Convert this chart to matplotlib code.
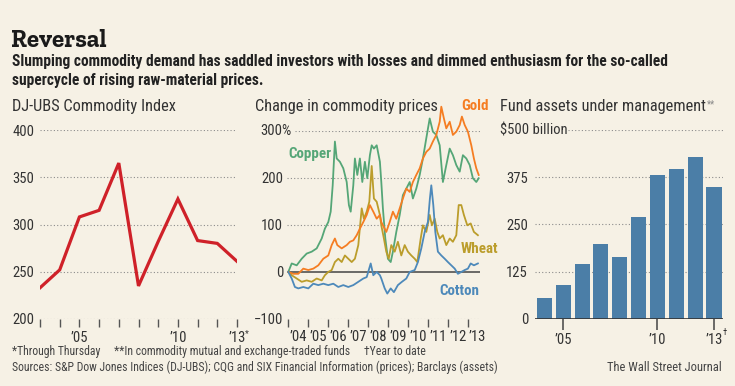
import matplotlib
matplotlib.use('Agg')
import matplotlib.pyplot as plt
from matplotlib import font_manager as fm

# ---- data ----
# DJ-UBS Commodity Index, year-end
idx_years = [2003, 2004, 2005, 2006, 2007, 2008, 2009, 2010, 2011, 2012, 2013]
idx_values = [233, 252, 308, 315, 365, 235, 282, 327, 283, 280, 261]
idx_ticks = [2003, 2004, 2005, 2006, 2007, 2008, 2009, 2010, 2011, 2012, 2013]
idx_ticklabels = ['', '', '\u201905', '', '', '', '', '\u201910', '', '', '\u201913']

# Change in commodity prices since start of 2004, %
copper_x = [2004.00, 2004.17, 2004.42, 2004.67, 2004.92, 2005.17, 2005.42, 2005.67, 2005.83, 2006.00,
            2006.12, 2006.22, 2006.33, 2006.42, 2006.58, 2006.75, 2006.92, 2007.03, 2007.12, 2007.25,
            2007.33, 2007.45, 2007.58, 2007.70, 2007.83, 2007.95, 2008.08, 2008.17, 2008.28, 2008.42,
            2008.58, 2008.65, 2008.73, 2008.85, 2008.98, 2009.12, 2009.23, 2009.40, 2009.57, 2009.73,
            2009.90, 2010.07, 2010.23, 2010.40, 2010.57, 2010.73, 2010.90, 2011.07, 2011.23, 2011.40,
            2011.57, 2011.73, 2011.90, 2012.07, 2012.23, 2012.40, 2012.57, 2012.73, 2012.90, 2013.07,
            2013.23, 2013.40, 2013.52]
copper_y = [0, 18, 14, 28, 39, 43, 50, 71, 92, 106,
            128, 184, 277, 241, 234, 220, 191, 142, 128, 184,
            241, 206, 241, 191, 234, 199, 248, 269, 262, 269,
            234, 191, 135, 71, 28, 21, 43, 85, 121, 163,
            177, 191, 156, 177, 206, 241, 284, 326, 298, 291,
            269, 191, 227, 262, 248, 227, 213, 248, 241, 227,
            199, 191, 199]

gold_x = [2004.00, 2004.25, 2004.50, 2004.75, 2005.00, 2005.25, 2005.50, 2005.75, 2006.00, 2006.17,
          2006.33, 2006.45, 2006.67, 2006.92, 2007.08, 2007.25, 2007.42, 2007.58, 2007.75, 2007.92,
          2008.08, 2008.25, 2008.42, 2008.58, 2008.65, 2008.90, 2009.07, 2009.23, 2009.40, 2009.57,
          2009.73, 2009.90, 2010.07, 2010.23, 2010.40, 2010.57, 2010.73, 2010.90, 2011.07, 2011.23,
          2011.40, 2011.57, 2011.65, 2011.78, 2011.90, 2012.07, 2012.23, 2012.40, 2012.57, 2012.68,
          2012.82, 2012.98, 2013.15, 2013.28, 2013.40, 2013.52]
gold_y = [0, -4, -4, 7, 4, 7, 14, 28, 35, 57,
          71, 57, 50, 57, 64, 67, 78, 92, 106, 121,
          142, 128, 113, 121, 106, 85, 106, 128, 113, 135,
          156, 177, 170, 191, 206, 220, 241, 255, 262, 277,
          291, 319, 351, 326, 305, 319, 291, 298, 312, 330,
          312, 298, 269, 241, 220, 206]

wheat_x = [2004.00, 2004.17, 2004.42, 2004.67, 2004.92, 2005.17, 2005.42, 2005.67, 2005.83, 2006.00,
           2006.17, 2006.33, 2006.50, 2006.67, 2006.83, 2007.00, 2007.17, 2007.33, 2007.50, 2007.67,
           2007.78, 2007.92, 2008.05, 2008.17, 2008.28, 2008.42, 2008.58, 2008.65, 2008.78, 2008.90,
           2009.02, 2009.15, 2009.32, 2009.48, 2009.65, 2009.82, 2009.98, 2010.15, 2010.32, 2010.45,
           2010.62, 2010.73, 2010.90, 2011.07, 2011.18, 2011.32, 2011.45, 2011.57, 2011.73, 2011.90,
           2012.07, 2012.23, 2012.40, 2012.52, 2012.65, 2012.78, 2012.95, 2013.12, 2013.28, 2013.48]
wheat_y = [0, -7, -14, -21, -18, -21, -14, -18, -7, 0,
           4, 21, 28, 21, 35, 28, 21, 28, 57, 135,
           113, 128, 149, 225, 156, 149, 121, 99, 71, 43,
           28, 57, 43, 64, 35, 57, 43, 35, 28, 21,
           71, 99, 85, 121, 99, 113, 85, 71, 78, 57,
           71, 64, 78, 142, 142, 121, 99, 103, 85, 78]

cotton_x = [2004.00, 2004.17, 2004.33, 2004.50, 2004.75, 2005.00, 2005.25, 2005.50, 2005.75, 2006.00,
            2006.25, 2006.50, 2006.75, 2007.00, 2007.25, 2007.50, 2007.75, 2007.92, 2008.12, 2008.25,
            2008.42, 2008.58, 2008.65, 2008.82, 2008.95, 2009.12, 2009.28, 2009.48, 2009.68, 2009.90,
            2010.07, 2010.32, 2010.48, 2010.65, 2010.82, 2010.98, 2011.08, 2011.15, 2011.25, 2011.35,
            2011.48, 2011.65, 2011.82, 2011.98, 2012.15, 2012.32, 2012.48, 2012.65, 2012.82, 2012.98,
            2013.12, 2013.28, 2013.48]
cotton_y = [0, -14, -32, -35, -32, -35, -25, -28, -25, -28,
            -25, -32, -28, -32, -28, -21, -14, -11, 18, -7,
            0, -7, -14, -35, -46, -35, -43, -28, -21, -14,
            0, 4, 21, 50, 85, 106, 156, 184, 142, 85,
            43, 35, 28, 21, 14, 7, -4, 0, 4, 7,
            18, 14, 18]

chg_ticks = [2004, 2005, 2006, 2007, 2008, 2009, 2010, 2011, 2012, 2013]
chg_label_pos = [2004.5, 2005.5, 2006.5, 2007.5, 2008.5, 2009.5, 2010.5, 2011.5, 2012.5, 2013.45]
chg_ticklabels = ['\u201904', '\u201905', '\u201906', '\u201907', '\u201908',
                  '\u201909', '\u201910', '\u201911', '\u201912', '\u201913']

# Fund assets under management, $ billion
aum_years = [2004, 2005, 2006, 2007, 2008, 2009, 2010, 2011, 2012, 2013]
aum_values = [54, 89, 144, 198, 164, 270, 380, 396, 429, 348]
aum_ticks = [2005, 2010, 2013]
aum_ticklabels = ['\u201905', '\u201910', '\u201913']

# ---- fonts / colours ----
_installed = {f.name for f in fm.fontManager.ttflist}


def pick(*names):
    for n in names:
        if n in _installed:
            return n
    return 'DejaVu Sans'


SANS = pick('Roboto Condensed', 'PT Sans Narrow', 'Fira Sans Condensed',
            'Barlow Semi Condensed', 'Liberation Sans Narrow', 'Roboto')
SERIF = pick('Zilla Slab', 'Roboto Slab', 'DejaVu Serif')
plt.rcParams['font.family'] = [SANS, 'DejaVu Sans']

BG = '#f6f1e5'
TXT = '#333333'
GRID = '#8c8c8c'
RED = '#cf2129'
GREEN = '#55a677'
ORANGE = '#f57d22'
MUSTARD = '#bb9d2b'
BLUE = '#4d89ba'
BAR = '#4b7ea7'

W, H = 735, 386
fig = plt.figure(figsize=(W / 100, H / 100), dpi=100, facecolor=BG)


def fx(x):
    return x / W


def fy(y):
    return 1 - y / H


def panel(x0, x1, y0, y1):
    ax = fig.add_axes([fx(x0), fy(y1), fx(x1 - x0), (y1 - y0) / H])
    ax.set_facecolor('none')
    for s in ax.spines.values():
        s.set_visible(False)
    return ax


dots = dict(color=GRID, lw=0.8, ls=(0, (1, 2)), zorder=0)
TICKFS = 10.5
HEADFS = 11.8

# header
fig.text(fx(11), fy(47), 'Reversal', family=SERIF, weight='bold', fontsize=18, color='#1a1a1a')
fig.text(fx(12), fy(66), 'Slumping commodity demand has saddled investors with losses and dimmed '
         'enthusiasm for the so-called', weight='bold', fontsize=11.2, color='#222222')
fig.text(fx(12), fy(85), 'supercycle of rising raw-material prices.', weight='bold',
         fontsize=11.2, color='#222222')

# ---- left: index ----
ax1 = panel(40, 237, 130, 319)
ax1.set_xlim(2003, 2013)
ax1.set_ylim(200, 400)
for v in [200, 250, 300, 350, 400]:
    ax1.axhline(v, **dots)
ax1.plot(idx_years, idx_values, color=RED, lw=2.3, solid_joinstyle='miter', zorder=3)
ax1.set_yticks([200, 250, 300, 350, 400])
ax1.set_xticks(idx_ticks, idx_ticklabels)
ax1.tick_params(axis='y', length=0, pad=4, labelsize=TICKFS, labelcolor=TXT)
ax1.tick_params(axis='x', length=6, width=1, color='#555555', pad=3, labelsize=TICKFS, labelcolor=TXT)
ax1.annotate('*', xy=(2013, 0), xycoords=('data', 'axes fraction'), xytext=(6, -12),
             textcoords='offset points', fontsize=6.5, color=TXT)
fig.text(fx(12), fy(111), 'DJ-UBS Commodity Index', fontsize=HEADFS, color=TXT)

# ---- middle: price changes ----
ax2 = panel(286.7, 480.3, 130.7, 319)
ax2.set_xlim(2003.92, 2013.6)
ax2.set_ylim(-100, 300)
for v in [-100, 100, 200]:
    ax2.axhline(v, **dots)
ax2.axhline(300, xmin=0.045, **dots)
ax2.axhline(0, xmin=0.008, color='#444444', lw=1.1, zorder=1)
lw = 1.3
ax2.plot(copper_x, copper_y, color=GREEN, lw=lw, clip_on=False, zorder=3)
ax2.plot(wheat_x, wheat_y, color=MUSTARD, lw=lw, clip_on=False, zorder=4)
ax2.plot(gold_x, gold_y, color=ORANGE, lw=lw, clip_on=False, zorder=5)
ax2.plot(cotton_x, cotton_y, color=BLUE, lw=lw, clip_on=False, zorder=6)
ax2.set_yticks([-100, 0, 100, 200, 300], ['\u2212100', '0', '100', '200', ''])
ax2.tick_params(axis='y', length=0, pad=2.5, labelsize=TICKFS, labelcolor=TXT)
ax2.set_xticks(chg_ticks, [''] * len(chg_ticks))
ax2.set_xticks(chg_label_pos, chg_ticklabels, minor=True)
ax2.tick_params(axis='x', which='major', length=6, width=1, color='#555555')
ax2.tick_params(axis='x', which='minor', length=0, pad=8, labelsize=TICKFS, labelcolor=TXT)
ax2.text(-0.135, 300, '300%', transform=ax2.get_yaxis_transform(), ha='left', va='center',
         fontsize=TICKFS, color=TXT)
lab = dict(weight='bold', fontsize=10.8, va='center')
fig.text(fx(288), fy(154), 'Copper', color=GREEN, **lab)
fig.text(fx(461), fy(106), 'Gold', color=ORANGE, **lab)
fig.text(fx(461), fy(249), 'Wheat', color=MUSTARD, **lab)
fig.text(fx(439), fy(291), 'Cotton', color=BLUE, **lab)
fig.text(fx(255), fy(111), 'Change in commodity prices', fontsize=HEADFS, color=TXT)

# ---- right: fund assets ----
ax3 = panel(535, 723.4, 130, 318.7)
ax3.set_xlim(2003.5, 2013.5)
ax3.set_ylim(0, 500)
for v in [125, 250, 375]:
    ax3.axhline(v, **dots)
ax3.axhline(500, xmin=0.175, **dots)
ax3.bar(aum_years, aum_values, width=0.8, color=BAR, zorder=2)
ax3.axhline(0, color='#333333', lw=1.2, zorder=3)
ax3.set_yticks([0, 125, 250, 375, 500], ['0', '125', '250', '375', ''])
ax3.tick_params(axis='y', length=0, pad=5, labelsize=TICKFS, labelcolor=TXT)
ax3.set_xticks(aum_ticks, aum_ticklabels)
ax3.tick_params(axis='x', length=8, width=1.1, color='#444444', pad=2, labelsize=TICKFS, labelcolor=TXT)
ax3.annotate('\u2020', xy=(2013, 0), xycoords=('data', 'axes fraction'), xytext=(6, -12),
             textcoords='offset points', fontsize=6.5, color=TXT)
ax3.text(-0.187, 500, '$500 billion', transform=ax3.get_yaxis_transform(), ha='left',
         va='center', fontsize=TICKFS, color=TXT)
t3 = fig.text(fx(500), fy(111), 'Fund assets under management', fontsize=HEADFS, color=TXT)
# small superscript right after the panel title
fig.canvas.draw()
bb = t3.get_window_extent()
fig.text((bb.x1 + 1) / W, bb.y1 / H, '**', fontsize=7, color='#888888', va='top')

# footer
foot = dict(fontsize=8.5, color='#444444')
fig.text(fx(12), fy(355), '*Through Thursday     **In commodity mutual and exchange-traded funds'
         '     \u2020Year to date', **foot)
fig.text(fx(12), fy(371), 'Sources: S&P Dow Jones Indices (DJ-UBS); CQG and SIX Financial '
         'Information (prices); Barclays (assets)', **foot)
fig.text(fx(722), fy(371), 'The Wall Street Journal', ha='right', fontsize=9, color='#444444')

fig.savefig('out.png', dpi=100, facecolor=BG)
